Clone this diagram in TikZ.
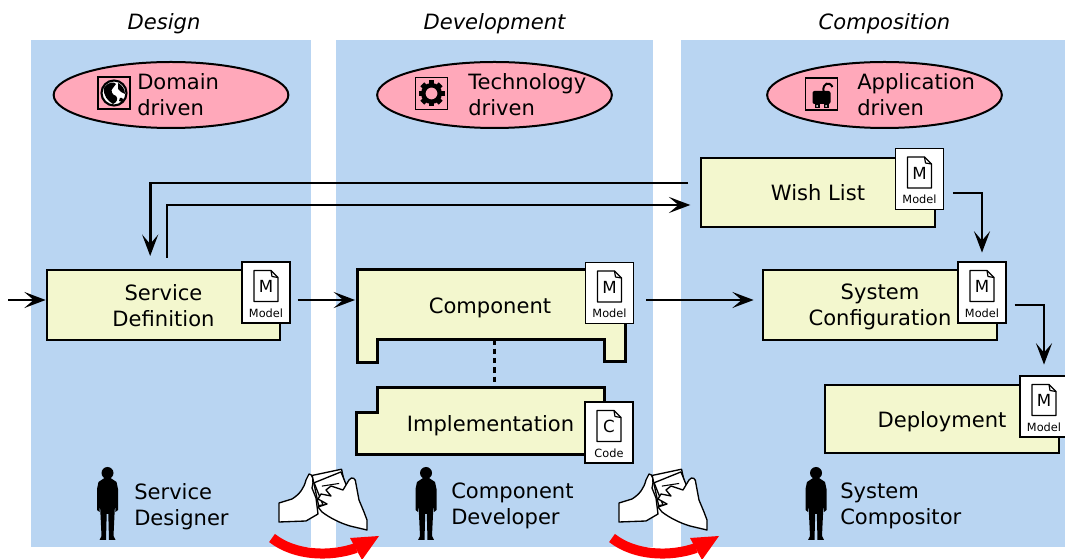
\documentclass[tikz,border=0pt]{standalone}
\usepackage{fontspec}
\setmainfont{DejaVu Sans}
\usetikzlibrary{arrows.meta,calc,shapes.geometric}

\definecolor{colbg}{HTML}{B9D5F2}
\definecolor{boxfill}{HTML}{F3F7CE}
\definecolor{pinkfill}{HTML}{FFA8BA}

\tikzset{
  every node/.style={font=\fontsize{15.8}{19.5}\selectfont, inner sep=0pt, text depth=0pt},
  colrect/.style={fill=colbg},
  title/.style={font=\fontsize{15.8}{19.5}\selectfont\itshape},
  ell/.style={ellipse, draw=black, line width=1.5pt, fill=pinkfill,
    minimum width=176pt, minimum height=49.5pt},
  iconbox/.style={draw=black, line width=1.1pt, fill=none},
  box/.style={draw=black, line width=2pt, fill=boxfill, align=center},
  shapeline/.style={draw=black, line width=2pt, fill=boxfill},
  doc/.style={draw=black, line width=1.1pt, fill=white,
    minimum width=36pt, minimum height=45.75pt},
  arr/.style={line width=2.1pt, -{Stealth[length=16pt,width=12pt,inset=7pt]}},
  link/.style={line width=2pt, dash pattern=on 4pt off 3pt},
  lefttext/.style={anchor=west, align=left},
  hand/.style={draw=black, line width=1pt, fill=white, line join=round},
}

% document icon with letter and caption
\newcommand\docicon[4]{%
  \node[doc] (#1) at (#2) {};
  \begin{scope}[shift={(#1.center)}]
    \draw[line width=0.9pt, fill=white, line join=round]
      (-12,-22) -- (5,-22) -- (12,-15) -- (12,9) -- (-12,9) -- cycle;
    \draw[line width=0.9pt, line join=round] (5,-22) -- (6,-16) -- (12,-15);
    \node[font=\fontsize{12.5}{13}\selectfont] (#1-l) at (0,-6) {#3};
    \node[font=\fontsize{8.5}{9}\selectfont] (#1-t) at (0,20.5) {#4};
  \end{scope}}

% standing person silhouette, head top at (#1,#2)
\newcommand\silhouette[2]{%
  \begin{scope}[shift={(#1,#2)}]
    \fill (0,6) circle (6);
    \fill (-3,11) -- (3,11) -- (9,15) -- (10.5,22) -- (10.5,43) -- (8,45)
      -- (7.5,37) -- (6,69) -- (8,73) -- (1.5,73) -- (0.8,47) -- (-0.8,47)
      -- (-1.5,73) -- (-8,73) -- (-6,69) -- (-7.5,37) -- (-8,45)
      -- (-10.5,43) -- (-10.5,22) -- (-9,15) -- cycle;
  \end{scope}}

% hand-over sign with red turn arrow
\newcommand\handover[1]{%
  \begin{scope}[shift={(#1,0)}]
    \draw[hand] (279,503) -- (292,499) .. controls (300,494) and (304,488) .. (306,480)
      -- (309,474) .. controls (313,474) and (314,480) .. (312,488)
      -- (316,498) -- (318,514) -- (306,521) -- (279,522) -- cycle;
    \draw[hand, rotate around={12:(330,487)}] (315,472) rectangle (345,503);
    \draw[hand, rotate around={22:(334,492)}] (319,476) rectangle (348,508);
    \draw[hand, line width=0.8pt, rotate around={22:(334,492)}] (325,482) -- (342,486);
    \draw[hand] (367,530) -- (350,526) .. controls (340,523) and (330,518) .. (322,512)
      -- (318,507) -- (327,504) -- (318,499) -- (321,494) -- (331,496)
      -- (326,490) -- (331,486) -- (343,490) -- (349,480) .. controls (352,476) and (356,478) .. (356,484)
      -- (359,500) -- (364,512) -- (367,520) -- cycle;
    \draw[red, line width=7.5pt] (272,538) .. controls (295,556) and (330,557) .. (356,548);
    \fill[red] (350,538) -- (379,536) -- (362,560) -- cycle;
  \end{scope}}

\begin{document}
\begin{tikzpicture}[x=0.75pt,y=-0.75pt]
\useasboundingbox (0,0) rectangle (1065,559);

% the three phase columns
\fill[colrect] (31,40) rectangle (311,547);
\fill[colrect] (336,40) rectangle (653,547);
\fill[colrect] (681,40) rectangle (1065,547);

\node[title] (t1) at (164,22) {Design};
\node[title] (t2) at (494.5,22) {Development};
\node[title] (t3) at (884.5,22) {Composition};

% drivers
\node[ell] (e1) at (171,95) {};
\node[ell] (e2) at (494.5,95) {};
\node[ell] (e3) at (884.5,95) {};
\node[lefttext] (e1t) at (137,95) {Domain\\driven};
\node[lefttext] (e2t) at (468,95) {Technology\\driven};
\node[lefttext] (e3t) at (857,95) {Application\\driven};

% globe icon
\begin{scope}[shift={(114,93)}]
  \draw[iconbox] (-16,-16) rectangle (16,16);
  \draw[line width=1.6pt, fill=white] (0,0) circle (12.5);
  \fill (-10,-5) .. controls (-6,-11) and (0,-12) .. (2,-9) -- (-1,-5)
    .. controls (-4,-3) and (-2,2) .. (2,3) .. controls (5,6) and (2,10) .. (-1,11)
    .. controls (-6,8) and (-11,3) .. (-10,-5) -- cycle;
  \fill (4,-10) .. controls (8,-8) and (11,-4) .. (11,1) -- (7,-1) -- (4,-4) -- cycle;
  \fill (6,5) .. controls (9,4) and (10,7) .. (8,9) -- (5,8) -- cycle;
\end{scope}

% gear icon
\begin{scope}[shift={(431.5,93.5)}]
  \draw[iconbox] (-16,-16) rectangle (16,16);
  \foreach \a in {0,45,...,315} \fill[rotate=\a] (-2.8,-13) rectangle (2.8,-8);
  \fill[even odd rule] (0,0) circle (10.5) (0,0) circle (6);
\end{scope}

% application icon
\begin{scope}[shift={(821.5,94)}]
  \draw[iconbox] (-16,-16) rectangle (16,16);
  \fill[rounded corners=1.5pt] (-9,-3) rectangle (9,10);
  \fill (-7,9) rectangle (-2,14);
  \fill (2,9) rectangle (7,14);
  \fill[white] (-4.5,12) circle (1);
  \fill[white] (4.5,12) circle (1);
  \draw[line width=1.5pt] (2,-3) .. controls (1,-11) and (8,-13) .. (11,-7);
\end{scope}

% models
\node[box, minimum width=174.75pt, minimum height=52.5pt] (sd) at (163.5,305) {Service\\Definition};
\docicon{sdd}{266,292.5}{M}{Model}

\node[minimum width=200.25pt, minimum height=51.75pt] (comp) at (491.5,304.5) {};
\draw[shapeline] (comp.north west) -- (comp.north east) -- ++(0,92) -- ++(-21,0)
  |- ([xshift=15pt]comp.south west) -- ++(0,23) -- ++(-20,0) -- cycle;
\node (compt) at (490,306) {Component};
\docicon{compd}{609.5,293}{M}{Model}

\node[minimum width=185.25pt, minimum height=49.5pt] (impl) at (480.5,421) {};
\draw[shapeline] ([xshift=15.75pt]impl.north west) -- (impl.north east) -- (impl.south east)
  -- (impl.south west) -- ++(0,-42) -- ++(21,0) -- cycle;
\node (implt) at (490.5,423) {Implementation};
\docicon{impld}{609,432.5}{C}{Code}

\draw[link] ([xshift=2pt]comp.south) -- ([xshift=2pt]comp.south |- impl.north);

\node[box, minimum width=175.5pt, minimum height=51.75pt] (wish) at (818,192.5) {Wish List};
\docicon{wishd}{919.5,179}{M}{Model}

\node[box, minimum width=175.5pt, minimum height=52.5pt] (sc) at (880,305) {System\\Configuration};
\docicon{scd}{982,292.5}{M}{Model}

\node[box, minimum width=175.5pt, minimum height=51pt] (dep) at (942,419) {Deployment};
\docicon{depd}{1044,406.5}{M}{Model}

% flow between models
\coordinate (in) at (8,300);
\draw[arr] (in) -- (in -| sd.west);
\draw[arr] ([xshift=5.25pt]sdd.east |- in) -- ([xshift=-2pt]comp.west |- in);
\draw[arr] ([xshift=9pt]compd.east |- in) -- ([xshift=-6pt]sc.west |- in);

\coordinate (wa) at (688,183);
\draw[arr] (wa) -| ([xshift=-10pt,yshift=9.5pt]sd.north);
\coordinate (sa) at (167,258);
\draw[arr] (sa) |- ([xshift=-7pt]wish.west |- 0,205);

\draw[arr] ([xshift=6.5pt]wishd.east |- 0,193) -| ([yshift=6.5pt]scd.north);
\draw[arr] ([xshift=6pt]scd.east |- 0,305) -| ([yshift=8pt]depd.north);

% roles
\silhouette{107.5}{467}
\silhouette{426}{467}
\silhouette{816}{467}
\node[lefttext] (r1) at (134,504) {Service\\Designer};
\node[lefttext] (r2) at (451,504) {Component\\Developer};
\node[lefttext] (r3) at (840,504) {System\\Compositor};

% hand-over between phases
\handover{0}
\handover{340}

\end{tikzpicture}
\end{document}
